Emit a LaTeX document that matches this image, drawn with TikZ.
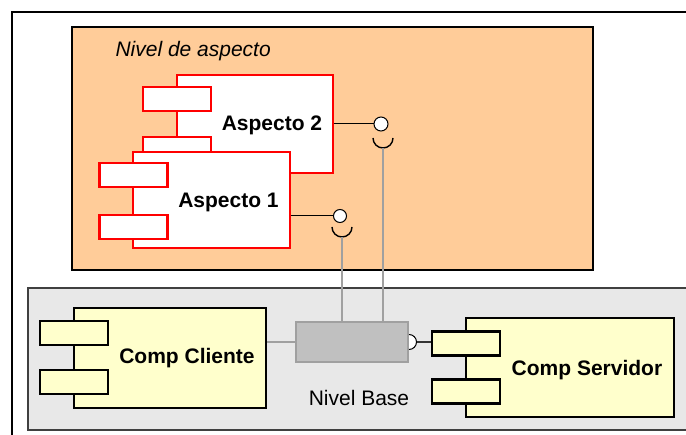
\documentclass[tikz,border=0pt]{standalone}
\usepackage{fontspec}
\setmainfont{Liberation Sans}
\definecolor{cpeach}{RGB}{255,204,153}
\definecolor{cyellow}{RGB}{255,255,204}
\definecolor{cbase}{RGB}{232,232,232}
\definecolor{cconn}{RGB}{192,192,192}
\definecolor{cwire}{RGB}{160,160,160}
\tikzset{
  layers/.style={x=1pt,y=-1pt,font=\fontsize{21}{25}\selectfont},
  compbody/.style={draw,rectangle,line width=2.8pt,inner sep=0pt},
  comptab/.style={compbody,minimum width=68pt,minimum height=24pt},
  aspect/.style={draw=red,fill=white},
  basic/.style={draw=black,fill=cyellow},
  ball/.style={circle,draw,fill=white,line width=1pt,inner sep=0pt,minimum size=13pt},
  wire/.style={cwire,line width=1.5pt},
}

\begin{document}
\begin{tikzpicture}[layers]
    \useasboundingbox (0,0) rectangle (686,435);
    \clip (0,0) rectangle (686,435);
    \draw[fill=cpeach,line width=1.3pt] (72,27) rectangle (593,270); % aspect layer
    \draw[fill=cbase,draw=black!75,line width=1.3pt] (28,288) rectangle (700,430); % base layer
    \draw[line width=2.5pt] (12,445) -- (12,12) -- (700,12); % outer frame
    \node[anchor=base west] (nivasp) at (112,57) {\itshape Nivel de aspecto};

    % aspect components
    \node[compbody,aspect,minimum width=156pt,minimum height=98pt] (asp2) at (255,124) {};
    \node[comptab,aspect] (asp2t1) at (177,99) {};
    \node[comptab,aspect] (asp2t2) at (177,149) {};
    \node[compbody,aspect,minimum width=157pt,minimum height=96pt] (asp1) at (211.5,200) {};
    \node[comptab,aspect] (asp1t1) at (133.5,175) {};
    \node[comptab,aspect] (asp1t2) at (133.5,227) {};
    \node[anchor=base] (asp2lbl) at (272,131) {\bfseries Aspecto 2};
    \node[anchor=base] (asp1lbl) at (228.5,208) {\bfseries Aspecto 1};

    % provided / required interfaces
    \node[ball,minimum size=14pt] (ball2) at (381,124) {};
    \node[ball] (ball1) at (340,216) {};
    \draw[line width=1pt] (asp2.east |- ball2) -- (ball2.west);
    \draw[line width=1pt] (asp1.east |- ball1) -- (ball1.west);
    \coordinate (cup2) at (383,138);
    \coordinate (cup1) at (342,227);
    \coordinate (cup2b) at (383,148);
    \coordinate (cup1b) at (342,237);
    \draw[line width=1.4pt] ([xshift=-10pt]cup2) arc[start angle=180,end angle=0,radius=10];
    \draw[line width=1.4pt] ([xshift=-10pt]cup1) arc[start angle=180,end angle=0,radius=10];

    % connector in the base layer
    \draw[wire] (cup2b) -- (383,324);
    \draw[wire] (cup1b) -- (342,322);
    \node[draw=cwire,fill=cconn,line width=2pt,minimum width=112pt,minimum height=40pt] (conn) at (352,342) {};

    % base components
    \node[compbody,basic,minimum width=192pt,minimum height=100pt] (cli) at (170,358) {};
    \node[comptab,basic] (clit1) at (74,333) {};
    \node[comptab,basic] (clit2) at (74,382) {};
    \node[anchor=base] (clilbl) at (187,364) {\bfseries Comp Cliente};
    \node[compbody,basic,minimum width=208pt,minimum height=99pt] (srv) at (570,367.5) {};
    \node[comptab,basic] (srvt1) at (466,343.5) {};
    \node[comptab,basic] (srvt2) at (466,391.5) {};
    \node[anchor=base] (srvlbl) at (587,376) {\bfseries Comp Servidor};

    \draw[wire] (cli.east |- conn.west) -- (conn.west);
    \draw[fill=white,line width=1pt] ([yshift=7.5pt]conn.east) arc[start angle=-90,end angle=90,radius=7.5];
    \coordinate (sock) at ([xshift=7.5pt]conn.east);
    \draw[line width=1.5pt,black!80] (sock) -- (sock -| srvt1.west);
    \node[anchor=base] (nivbase) at (359,406) {Nivel Base};
\end{tikzpicture}
\end{document}
